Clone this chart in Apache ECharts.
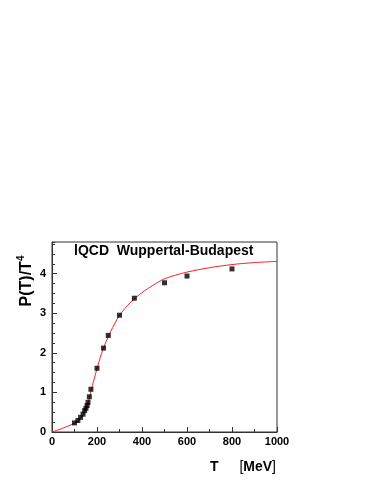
<!DOCTYPE html>
<html><head><meta charset="utf-8">
<script src="https://cdn.jsdelivr.net/npm/echarts@6/dist/echarts.min.js"></script>
<style>html,body{margin:0;padding:0;background:#fff}#c{width:374px;height:484px}</style>
</head><body><div id="c"></div>
<script>
const dataT = [100, 115, 127, 138, 145, 151, 156, 160, 166, 173, 200, 229, 250, 300, 366, 500, 600, 800];
const dataP = [0.23, 0.29, 0.37, 0.45, 0.54, 0.60, 0.67, 0.75, 0.89, 1.08, 1.61, 2.12, 2.44, 2.95, 3.38, 3.77, 3.94, 4.12];
const curveT = [0, 50, 100, 120, 140, 160, 180, 200, 220, 240, 260, 280, 300, 350, 400, 450, 500, 600, 700, 800, 900, 1000];
const curveP = [0, 0.1, 0.22, 0.3, 0.45, 0.73, 1.18, 1.6, 1.98, 2.28, 2.53, 2.75, 2.95, 3.28, 3.52, 3.71, 3.87, 4.04, 4.15, 4.23, 4.28, 4.31];
const xTicks = [0, 200, 400, 600, 800, 1000];
const yTicks = [0, 1, 2, 3, 4];
const titleText = 'lQCD  Wuppertal-Budapest';

const chart = echarts.init(document.getElementById('c'));
const font = '"Liberation Sans", Arial, Helvetica, sans-serif';
const axisCol = '#333';
chart.setOption({
  animation: false,
  grid: {left: 52, right: 97, top: 242, bottom: 52, show: true, borderColor: axisCol, borderWidth: 1, backgroundColor: 'transparent'},
  xAxis: {
    type: 'value', min: 0, max: 1000, interval: 200,
    axisLine: {lineStyle: {color: axisCol, width: 1}},
    axisTick: {inside: true, length: 5, lineStyle: {color: axisCol}},
    minorTick: {show: true, splitNumber: 2, length: 3, lineStyle: {color: axisCol}},
    splitLine: {show: false},
    axisLabel: {color: '#000', fontWeight: 'bold', fontSize: 11, fontFamily: font, margin: 4,
      formatter: v => xTicks.includes(v) ? String(v) : ''}
  },
  yAxis: [{
    type: 'value', min: 0, max: 4.8, interval: 1,
    axisLine: {show: true, lineStyle: {color: axisCol, width: 1}},
    axisTick: {show: true, inside: true, length: 5, lineStyle: {color: axisCol}},
    splitLine: {show: false},
    axisLabel: {color: '#000', fontWeight: 'bold', fontSize: 11, fontFamily: font, margin: 6, showMaxLabel: false,
      formatter: v => yTicks.includes(v) ? String(v) : ''}
  }, {
    type: 'value', min: 0, max: 4.8, interval: 0.25, position: 'left', offset: 0,
    axisLine: {show: false},
    axisTick: {show: true, inside: true, length: 3, lineStyle: {color: axisCol}},
    splitLine: {show: false},
    axisLabel: {show: false}
  }],
  graphic: [
    {type: 'text', left: 74, top: 244, style: {text: titleText, fontSize: 14, fontWeight: 'bold', fontFamily: font, fill: '#000'}},
    {type: 'text', x: 27, y: 281, rotation: Math.PI / 2, style: {
      text: 'P(T)/T{s|4}', rich: {s: {fontSize: 10, fontWeight: 'bold', fontFamily: font, verticalAlign: 'top', padding: [0, 0, 12, 0]}},
      fontSize: 16, fontWeight: 'bold', fontFamily: font, fill: '#000', align: 'center', verticalAlign: 'middle'}},
    {type: 'text', x: 210, y: 467, style: {text: 'T', fontSize: 14, fontWeight: 'bold', fontFamily: font, fill: '#000', verticalAlign: 'middle'}},
    {type: 'text', x: 276, y: 467, style: {text: '[{b|MeV}]', rich: {b: {fontSize: 14, fontWeight: 'bold', fontFamily: font}}, fontSize: 14, fontFamily: font, fill: '#000', align: 'right', verticalAlign: 'middle'}}
  ],
  series: [
    {type: 'line', data: curveT.map((t, i) => [t, curveP[i]]), smooth: 0.3, showSymbol: false, symbol: 'none',
      lineStyle: {color: '#ff2020', width: 1}, z: 2},
    {type: 'scatter', data: dataT.map((t, i) => [t, dataP[i]]), symbol: 'rect', symbolSize: 5,
      itemStyle: {color: '#000'}, z: 3}
  ]
});
</script></body></html>
